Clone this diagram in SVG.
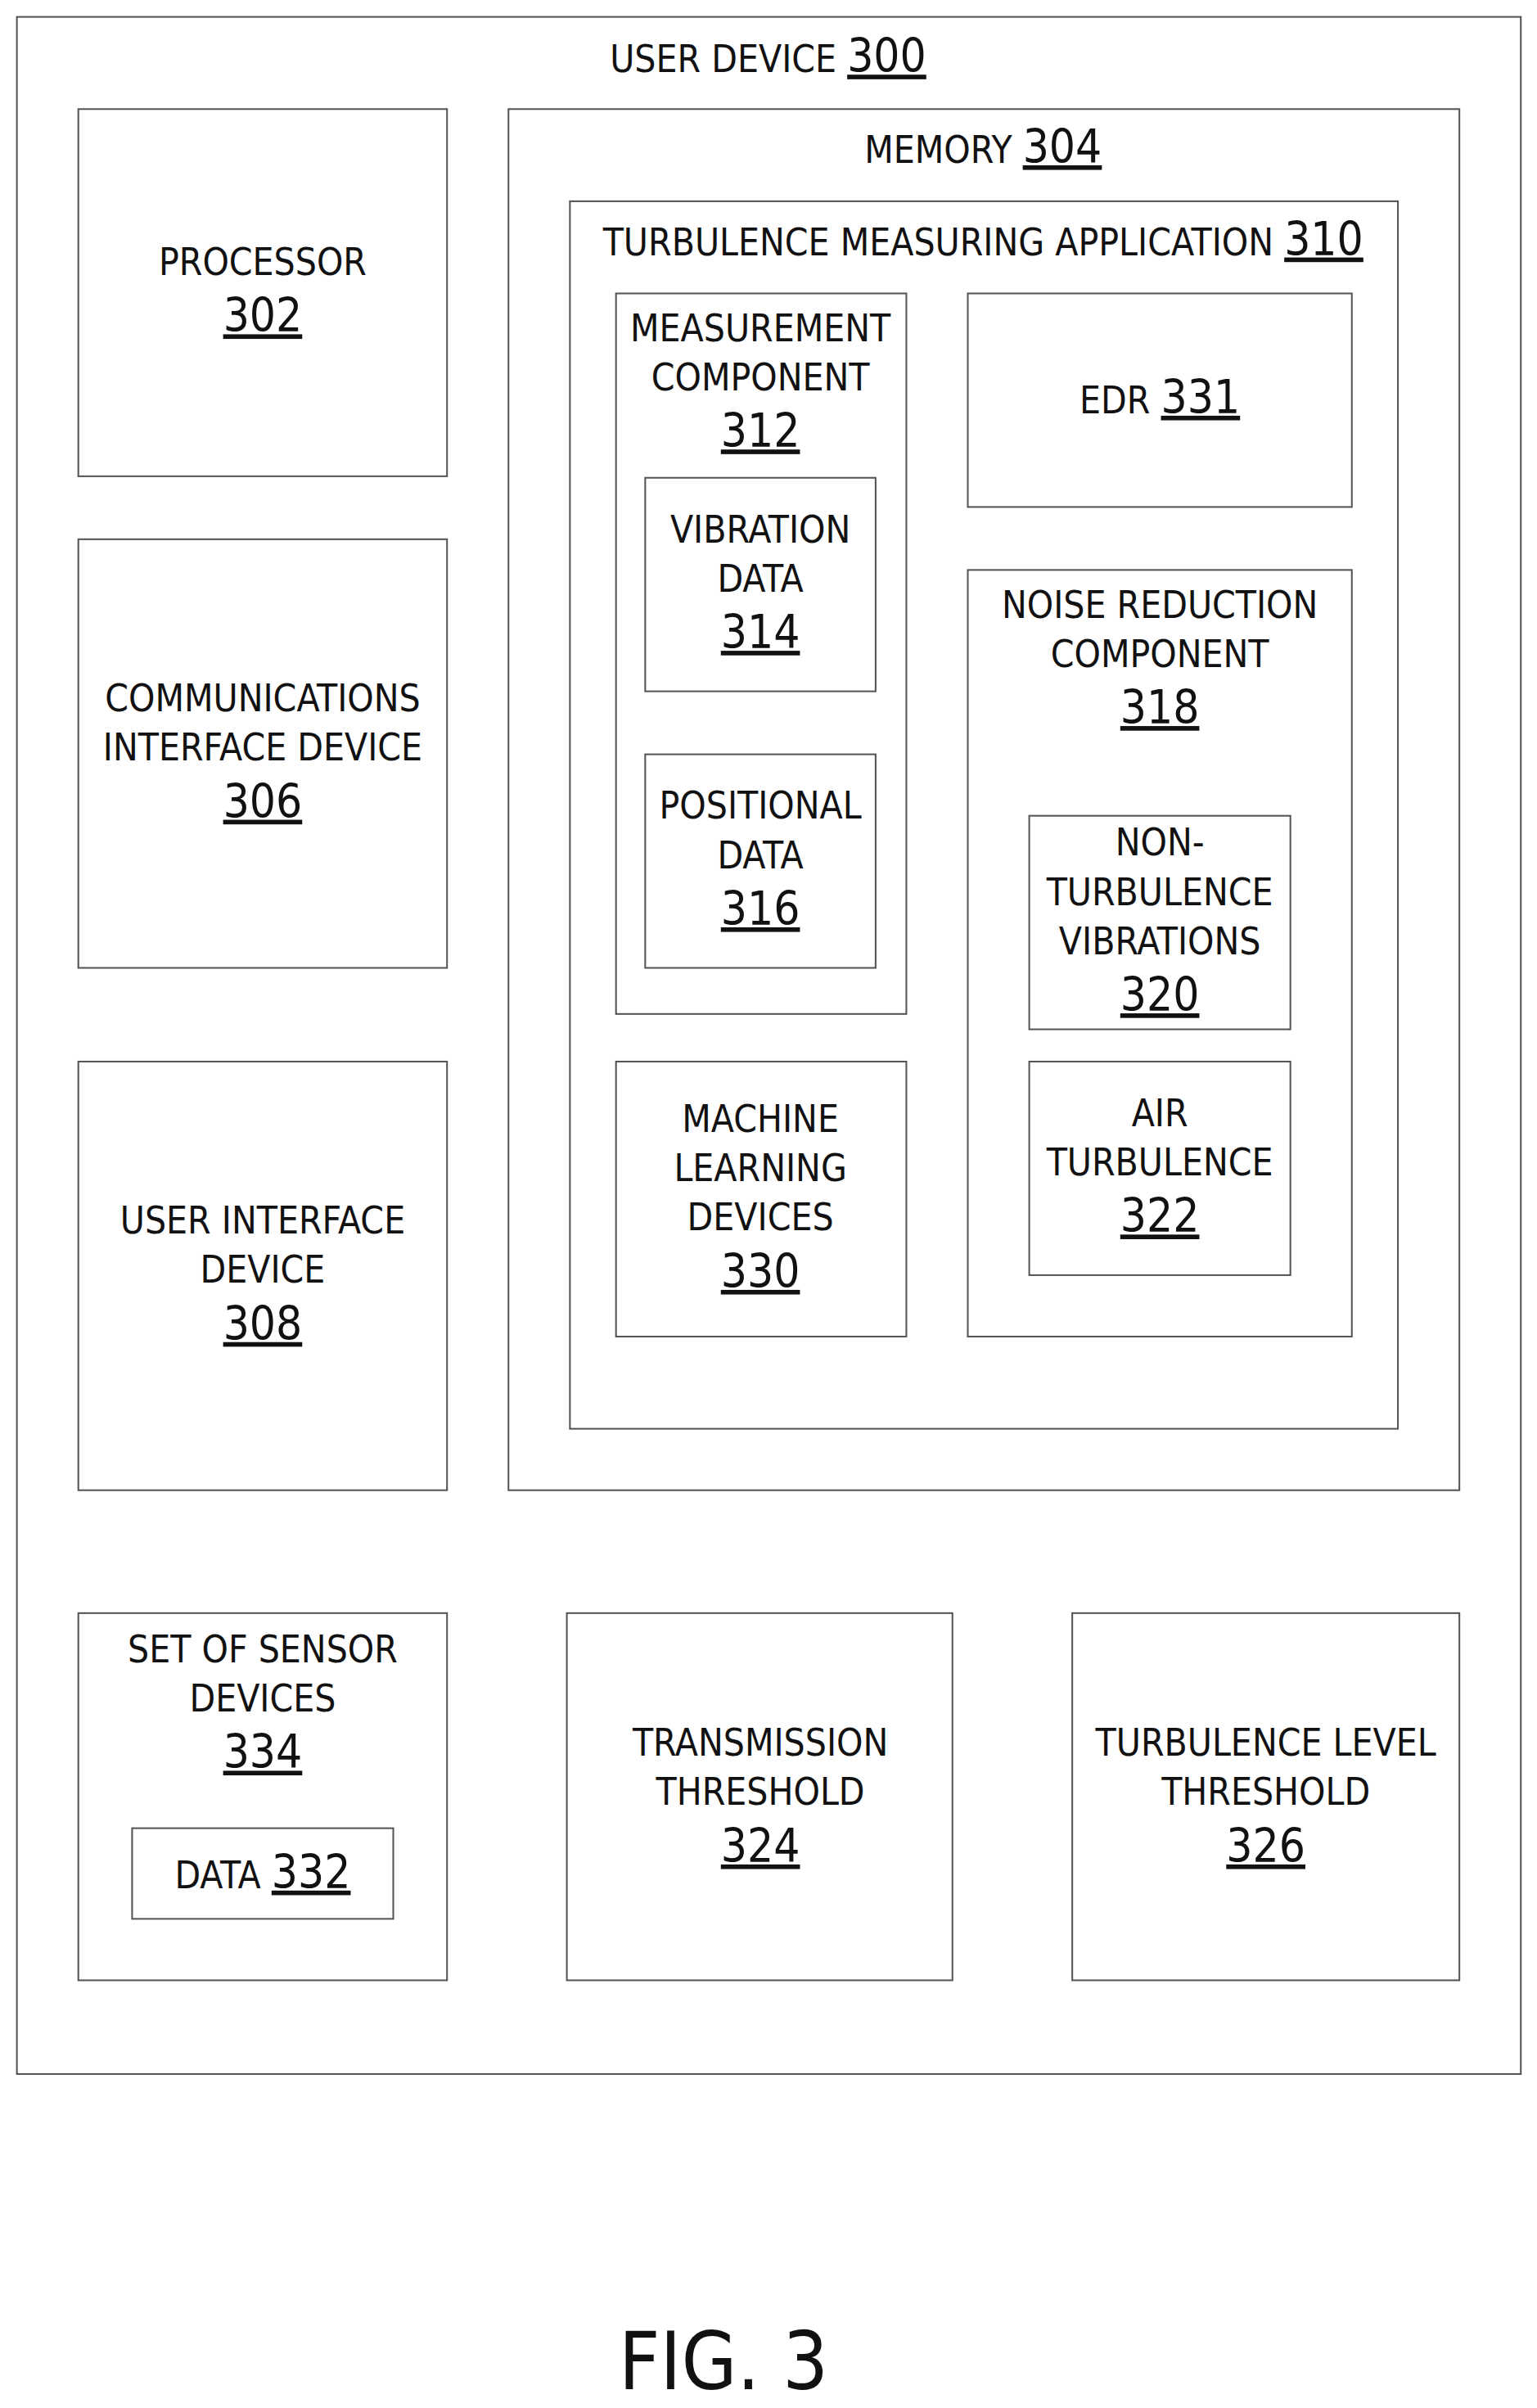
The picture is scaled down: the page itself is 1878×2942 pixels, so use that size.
<svg xmlns="http://www.w3.org/2000/svg" width="1878" height="2942" viewBox="0 0 1878 2942">
<style>
rect{fill:none;stroke:#555;stroke-width:1.1}
text{font-family:"DejaVu Sans Condensed","Liberation Sans",sans-serif;font-size:24.4px;fill:#111;text-anchor:middle}
.n{font-size:30px;text-decoration:underline}
.f{font-size:52px}
</style>
<rect x="0" y="0" width="1878" height="2942" style="fill:#fff;stroke:none"/>
<g transform="scale(1.877)">
<g id="user-device"><rect x="11" y="11" width="979" height="1339"/><text x="500" y="47">USER DEVICE <tspan class="n">300</tspan></text></g>
<g id="processor"><rect x="51" y="71" width="240" height="239"/><text x="171" y="179">PROCESSOR</text><text class="n" x="171" y="216">302</text></g>
<g id="comm"><rect x="51" y="351" width="240" height="279"/><text x="171" y="463">COMMUNICATIONS</text><text x="171" y="495">INTERFACE DEVICE</text><text class="n" x="171" y="532">306</text></g>
<g id="ui"><rect x="51" y="691" width="240" height="279"/><text x="171" y="803">USER INTERFACE</text><text x="171" y="835">DEVICE</text><text class="n" x="171" y="872">308</text></g>
<g id="memory"><rect x="331" y="71" width="619" height="899"/><text x="640" y="106">MEMORY <tspan class="n">304</tspan></text></g>
<g id="tma"><rect x="371" y="131" width="539" height="799"/><text x="640" y="166">TURBULENCE MEASURING APPLICATION <tspan class="n">310</tspan></text></g>
<g id="measurement"><rect x="401" y="191" width="189" height="469"/><text x="495" y="222">MEASUREMENT</text><text x="495" y="254">COMPONENT</text><text class="n" x="495" y="291">312</text></g>
<g id="vibration"><rect x="420" y="311" width="150" height="139"/><text x="495" y="353">VIBRATION</text><text x="495" y="385">DATA</text><text class="n" x="495" y="422">314</text></g>
<g id="positional"><rect x="420" y="491" width="150" height="139"/><text x="495" y="533">POSITIONAL</text><text x="495" y="565">DATA</text><text class="n" x="495" y="602">316</text></g>
<g id="ml"><rect x="401" y="691" width="189" height="179"/><text x="495" y="737">MACHINE</text><text x="495" y="769">LEARNING</text><text x="495" y="801">DEVICES</text><text class="n" x="495" y="838">330</text></g>
<g id="edr"><rect x="630" y="191" width="250" height="139"/><text x="755" y="269">EDR <tspan class="n">331</tspan></text></g>
<g id="noise"><rect x="630" y="371" width="250" height="499"/><text x="755" y="402">NOISE REDUCTION</text><text x="755" y="434">COMPONENT</text><text class="n" x="755" y="471">318</text></g>
<g id="nonturb"><rect x="670" y="531" width="170" height="139"/><text x="755" y="557">NON-</text><text x="755" y="589">TURBULENCE</text><text x="755" y="621">VIBRATIONS</text><text class="n" x="755" y="658">320</text></g>
<g id="air"><rect x="670" y="691" width="170" height="139"/><text x="755" y="733">AIR</text><text x="755" y="765">TURBULENCE</text><text class="n" x="755" y="802">322</text></g>
<g id="sensors"><rect x="51" y="1050" width="240" height="239"/><text x="171" y="1082">SET OF SENSOR</text><text x="171" y="1114">DEVICES</text><text class="n" x="171" y="1151">334</text></g>
<g id="data"><rect x="86" y="1190" width="170" height="59"/><text x="171" y="1229">DATA <tspan class="n">332</tspan></text></g>
<g id="transmission"><rect x="369" y="1050" width="251" height="239"/><text x="495" y="1143">TRANSMISSION</text><text x="495" y="1175">THRESHOLD</text><text class="n" x="495" y="1212">324</text></g>
<g id="tlt"><rect x="698" y="1050" width="252" height="239"/><text x="824" y="1143">TURBULENCE LEVEL</text><text x="824" y="1175">THRESHOLD</text><text class="n" x="824" y="1212">326</text></g>
<g id="connectors"></g>
<text class="f" x="471" y="1555">FIG. 3</text>
</g>
</svg>
